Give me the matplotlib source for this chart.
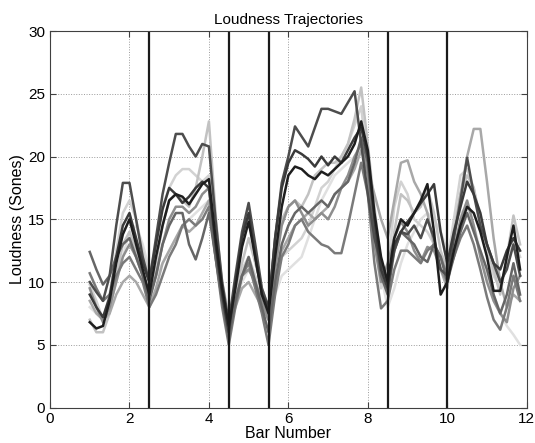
import numpy as np
import matplotlib
matplotlib.use("Agg")
import matplotlib.pyplot as plt

plt.rcParams['font.family'] = ['Liberation Sans', 'DejaVu Sans']

# sample positions: 6 per bar, bars 1..11
x = np.arange(66) / 6.0 + 1.0

# loudness trajectories (sones), one list per performance, 6 values per bar
perf1 = [6.8, 6.3, 6.5, 8.5, 11.5, 13.8,
         15.0, 13.0, 11.0, 9.0, 12.0, 14.5,
         16.5, 17.0, 16.8, 16.2, 17.0, 17.8,
         18.2, 13.5, 9.5, 6.5, 9.5, 12.8,
         14.8, 12.0, 9.0, 7.5, 12.0, 16.0,
         18.5, 19.2, 19.0, 18.5, 18.2, 18.8,
         18.5, 19.0, 19.5, 20.0, 21.0, 22.8,
         20.5, 15.5, 12.0, 10.0, 13.5, 15.0,
         14.5, 15.5, 16.5, 17.8, 14.0, 9.0,
         10.0, 12.5, 14.5, 16.0, 15.5, 14.0,
         12.0, 9.3, 9.3, 12.0, 14.5, 11.0]
perf2 = [9.0, 8.0, 7.2, 8.8, 12.0, 14.5,
         15.5, 13.5, 11.5, 10.0, 13.0, 15.8,
         17.5, 17.0, 16.3, 16.8, 17.5, 18.0,
         17.5, 13.0, 9.0, 6.0, 10.0, 13.5,
         15.5, 12.0, 9.0, 8.0, 13.5, 17.5,
         19.5, 20.5, 20.2, 19.8, 19.2, 20.0,
         19.3, 20.0, 19.5, 20.5, 21.5, 22.3,
         20.0, 15.0, 11.0, 9.5, 13.0, 14.0,
         14.8, 15.5, 16.3, 17.0, 17.8, 14.0,
         11.5, 14.0, 16.0, 18.0, 17.0, 15.5,
         13.0, 11.5, 11.0, 12.5, 13.5, 12.5]
perf3 = [10.0, 9.2, 8.5, 10.5, 14.5, 17.9,
         17.9, 15.0, 12.0, 10.0, 13.5, 17.0,
         19.5, 21.8, 21.8, 20.8, 20.0, 21.0,
         20.8, 15.0, 10.0, 6.8, 10.5, 14.0,
         16.3, 13.0, 9.5, 8.0, 13.5, 17.9,
         20.0, 22.4, 21.6, 20.8, 22.3, 23.8,
         23.8, 23.6, 23.4, 24.3, 25.2, 21.0,
         17.0, 13.5, 11.5, 10.0, 12.5, 14.0,
         13.8, 14.5, 13.5, 15.0, 13.5, 11.0,
         10.5, 13.5, 16.5, 19.9, 17.0, 14.5,
         13.0, 11.5, 10.0, 11.0, 13.0, 10.5]
perf4 = [12.4, 11.0, 9.8, 10.5, 12.0, 13.0,
         13.5, 12.0, 10.5, 8.5, 10.5, 13.0,
         14.5, 15.5, 15.5, 13.0, 11.8, 13.5,
         15.5, 12.0, 8.5, 5.5, 8.5, 10.5,
         12.0, 10.0, 8.0, 6.0, 10.0, 13.0,
         14.5, 15.5, 16.0, 15.5, 16.0, 16.5,
         16.0, 17.0, 17.5, 18.0, 19.5, 21.5,
         19.5, 14.0, 10.5, 9.0, 12.5, 14.0,
         13.5, 13.0, 12.0, 11.6, 13.0, 12.0,
         10.0, 12.0, 14.0, 15.5, 14.0, 12.5,
         11.0, 9.0, 7.5, 9.0, 11.5, 9.0]
perf5 = [10.7, 9.5, 8.5, 9.0, 10.5, 11.5,
         12.0, 11.0, 10.0, 8.0, 9.0, 10.5,
         12.0, 13.0, 14.5, 15.0, 14.5, 15.0,
         16.0, 12.0, 8.0, 5.0, 8.0, 10.5,
         11.5, 9.5, 7.5, 5.0, 9.0, 12.0,
         13.0, 14.5, 15.0, 14.0, 13.5, 13.0,
         12.8, 12.3, 12.3, 14.5, 17.0, 19.5,
         17.0, 11.5, 7.9, 8.5, 11.0, 12.5,
         12.5, 12.0, 11.5, 12.5, 13.0, 12.0,
         10.5, 12.0, 13.5, 14.5, 13.0, 11.0,
         8.8, 7.0, 6.2, 8.0, 10.5, 8.5]
perf6 = [9.5, 8.0, 6.8, 8.0, 10.0, 12.0,
         13.0, 12.0, 10.5, 8.8, 10.5, 13.0,
         15.0, 16.0, 16.0, 15.5, 16.0, 17.0,
         17.5, 13.0, 9.0, 6.0, 8.5, 10.5,
         11.0, 10.0, 8.5, 7.0, 11.0, 14.5,
         16.0, 16.5, 15.5, 14.5, 15.0, 15.5,
         15.0, 16.0, 17.5, 18.5, 20.0, 21.0,
         18.5, 13.0, 10.0, 11.5, 13.5, 14.8,
         14.0, 12.5, 11.6, 12.8, 12.5, 11.0,
         10.0, 12.5, 15.0, 16.5, 14.5, 12.0,
         10.0, 8.5, 7.5, 6.8, 9.5, 10.5]
perf7 = [8.5, 7.5, 7.0, 7.5, 9.0, 10.0,
         10.5, 10.0, 9.0, 8.0, 9.5, 11.5,
         12.5, 13.5, 14.5, 14.0, 14.5, 15.5,
         16.5, 12.0, 8.5, 6.5, 8.0, 9.5,
         10.0, 9.0, 8.0, 7.0, 10.0, 12.5,
         13.5, 14.5, 15.0, 15.5, 15.0, 15.5,
         16.0, 17.0, 17.5, 18.0, 19.0, 20.5,
         19.0, 17.0, 15.0, 13.5, 16.5, 19.5,
         19.7, 18.0, 17.0, 15.5, 13.0, 11.0,
         9.5, 13.5, 17.0, 20.0, 22.2, 22.2,
         18.0, 13.5, 10.0, 8.0, 9.0, 8.5]
perf8 = [7.0, 6.0, 6.0, 7.5, 10.5, 13.0,
         14.0, 12.5, 10.5, 9.0, 11.5, 14.5,
         16.5, 17.0, 16.5, 16.0, 17.5, 20.0,
         22.8, 15.5, 9.5, 6.0, 9.0, 11.5,
         13.5, 11.5, 9.5, 8.0, 11.5, 15.0,
         16.0, 16.5, 16.0, 17.0, 18.5, 19.0,
         19.5, 19.5, 20.0, 21.0, 23.0, 25.5,
         21.0, 16.0, 11.5, 9.5, 14.0, 17.0,
         16.5, 15.5, 16.0, 17.5, 15.5, 12.5,
         11.0, 14.0, 17.0, 18.5, 17.5, 15.0,
         13.0, 11.0, 9.0, 12.0, 15.3, 13.0]
perf9 = [9.8, 8.5, 7.0, 9.0, 12.5, 15.5,
         16.5, 15.0, 12.5, 10.5, 13.0, 16.0,
         17.5, 18.5, 19.0, 19.0, 18.5, 18.0,
         18.5, 14.0, 10.0, 7.5, 9.5, 11.0,
         12.0, 10.5, 9.0, 7.5, 10.0, 12.0,
         12.5, 13.0, 13.5, 14.5, 16.0, 17.5,
         18.0, 19.0, 20.0, 21.0, 22.5, 24.0,
         19.0, 13.5, 9.5, 11.0, 16.0, 18.0,
         17.0, 15.0, 14.5, 14.0, 13.0, 12.0,
         11.5, 15.0, 18.5, 19.0, 17.5, 14.5,
         12.5, 10.5, 9.5, 11.5, 13.5, 12.0]
perf10 = [8.0, 7.5, 7.0, 8.0, 10.0, 12.0,
          14.0, 14.5, 13.0, 11.0, 10.5, 11.5,
          12.5, 13.5, 14.5, 15.0, 15.5, 16.0,
          16.5, 12.5, 9.0, 7.0, 8.5, 10.0,
          11.0, 10.0, 8.5, 7.0, 9.0, 10.5,
          11.0, 11.5, 12.0, 13.5, 15.0, 16.5,
          17.5, 18.5, 19.0, 19.5, 20.0, 20.5,
          18.0, 14.0, 10.5, 8.0, 9.5, 11.5,
          13.0, 14.0, 15.0, 15.5, 15.0, 14.0,
          12.5, 14.0, 15.5, 16.0, 14.5, 12.5,
          10.5, 9.0, 7.5, 6.5, 5.8, 5.0]

performances = [perf10, perf9, perf8, perf7, perf6, perf5, perf4, perf3, perf2, perf1]
shades = ['#e0e0e0', '#d2d2d2', '#c2c2c2', '#a8a8a8', '#8e8e8e',
          '#7a7a7a', '#666666', '#4d4d4d', '#3a3a3a', '#1e1e1e']

# section boundaries (bar number)
boundaries = [2.5, 4.5, 5.5, 8.5, 10]

fig = plt.figure(figsize=(5.35, 4.43), dpi=100)
ax = fig.add_axes([0.0935, 0.080, 0.891, 0.850])

for y, c in zip(performances, shades):
    ax.plot(x, y, color=c, linewidth=1.8)

for b in boundaries:
    ax.axvline(b, color='#1a1a1a', linewidth=1.6)

ax.set_xlim(0, 12)
ax.set_ylim(0, 30)
ax.set_xticks(range(0, 13, 2))
ax.set_yticks(range(0, 31, 5))
ax.grid(True, linestyle=':', color='#9a9a9a', linewidth=0.7)
ax.tick_params(direction='in', top=True, right=True, labelsize=11, length=4, color='#404040')
for s in ax.spines.values():
    s.set_color('#404040')
    s.set_linewidth(0.8)

ax.set_xlabel("Bar Number", fontsize=11.5, labelpad=0)
ax.set_ylabel("Loudness (Sones)", fontsize=11.5, labelpad=2)
ax.set_title("Loudness Trajectories", fontsize=11, pad=5)

fig.savefig("out.png", dpi=100)
